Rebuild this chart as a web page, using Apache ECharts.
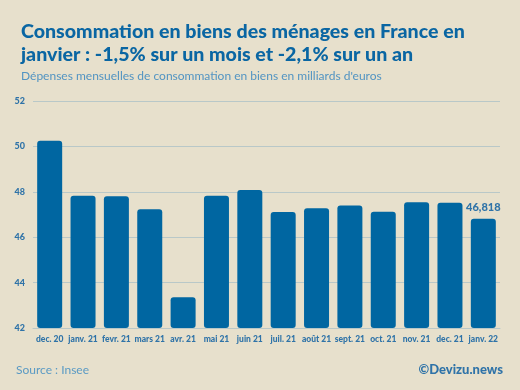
<!DOCTYPE html>
<html>
<head>
<meta charset="utf-8">
<script src="https://cdn.jsdelivr.net/npm/echarts@6/dist/echarts.min.js"></script>
<style>
  html, body { margin: 0; padding: 0; background: #e7e0cc; }
  #chart { width: 520px; height: 390px; }
</style>
</head>
<body>
<div id="chart"></div>
<script>
const months = ['dec. 20', 'janv. 21', 'fevr. 21', 'mars 21', 'avr. 21', 'mai 21', 'juin 21',
  'juil. 21', 'août 21', 'sept. 21', 'oct. 21', 'nov. 21', 'dec. 21', 'janv. 22']
const spending = [50.25, 47.83, 47.80, 47.23, 43.35, 47.83, 48.08,
  47.11, 47.27, 47.40, 47.12, 47.54, 47.52, 46.818]

const blue = '#0a66a3'
const myChart = echarts.init(document.getElementById('chart'))

const option = {
  backgroundColor: '#e7e0cc',
  animation: false,
  title: [{
    text: 'Consommation en biens des ménages en France en\njanvier : -1,5% sur un mois et -2,1% sur un an',
    left: 16,
    top: 15,
    textStyle: {
      fontFamily: 'Lato',
      fontWeight: 900,
      fontSize: 19.6,
      lineHeight: 23,
      color: blue
    }
  }, {
    text: "Dépenses mensuelles de consommation en biens en milliards d'euros",
    left: 16,
    top: 65,
    textStyle: {
      fontFamily: 'Lato',
      fontWeight: 'normal',
      fontSize: 12,
      color: '#5294c2'
    }
  }],
  grid: {
    left: 33,
    right: 20,
    top: 101,
    bottom: 62
  },
  xAxis: {
    type: 'category',
    data: months,
    axisTick: { show: false },
    axisLine: { lineStyle: { color: '#b9c8c8', width: 1 } },
    axisLabel: {
      interval: 0,
      margin: 7,
      fontFamily: 'Lato',
      fontWeight: 900,
      fontSize: 8.5,
      color: '#2f73a8'
    }
  },
  yAxis: {
    type: 'value',
    min: 42,
    max: 52,
    interval: 2,
    axisLine: { show: false },
    axisTick: { show: false },
    splitLine: { lineStyle: { color: '#b9c8c8', width: 1 } },
    axisLabel: {
      margin: 8,
      fontFamily: 'Lato',
      fontWeight: 900,
      fontSize: 9,
      color: '#2f73a8'
    }
  },
  series: [{
    type: 'bar',
    data: spending.map(function(v, i) {
      const item = { value: v }
      if (i === spending.length - 1) {
        item.label = {
          show: true,
          position: 'top',
          distance: 6,
          formatter: '46,818',
          fontFamily: 'Lato',
          fontWeight: 900,
          fontSize: 11,
          color: '#2f73a8'
        }
      }
      return item
    }),
    barWidth: 25,
    itemStyle: {
      color: '#0066a1',
      borderRadius: 3
    }
  }],
  graphic: [{
    type: 'text',
    left: 16,
    top: 364,
    style: {
      text: 'Source : Insee',
      font: '12px Lato',
      fill: '#5a9ac4'
    }
  }, {
    type: 'text',
    right: 17,
    top: 363,
    style: {
      text: '©Devizu.news',
      font: '900 13px Lato',
      fill: '#2f73a8'
    }
  }]
}
myChart.setOption(option)
</script>
</body>
</html>
